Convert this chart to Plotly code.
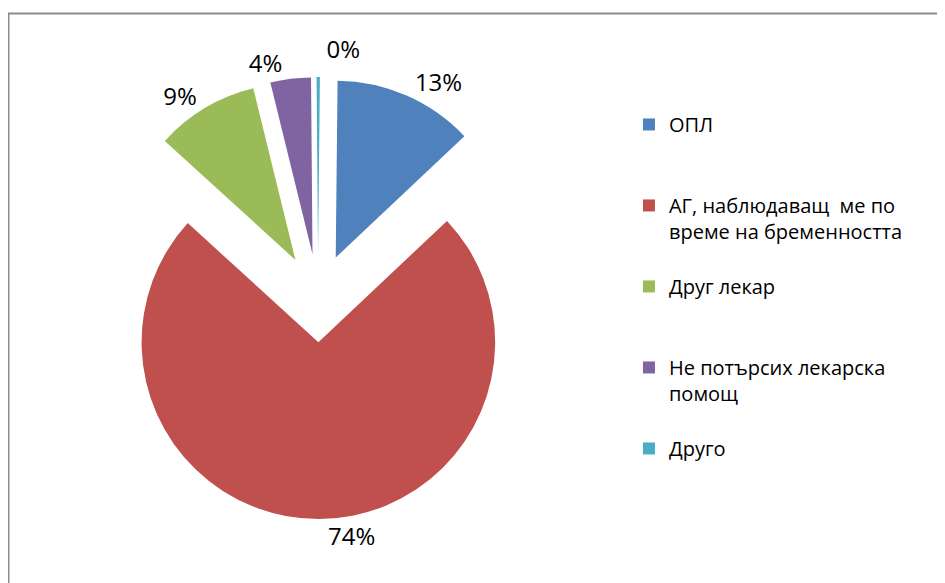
import plotly.graph_objects as go

categories = ["ОПЛ", "АГ, наблюдаващ  ме по<br>време на бременността", "Друг лекар",
              "Не потърсих лекарска<br>помощ", "Друго"]
values = [12.8, 73.8, 9.4, 3.7, 0.3]
colors = ["#4F81BD", "#C0504D", "#9BBB59", "#8064A2", "#4BACC6"]
explode = [0.25, 0.25, 0.25, 0.25, 0.25]

# pad legend entries to equal 3-line slots
legend_labels = []
for c in categories:
    n = c.count("<br>") + 1
    legend_labels.append(c + "<br> " * (3 - n))

FONT = "Open Sans"

fig = go.Figure(go.Pie(
    labels=legend_labels,
    values=values,
    sort=False,
    direction="clockwise",
    rotation=0.6,
    pull=explode,
    marker=dict(colors=colors, line=dict(width=0)),
    textposition="outside",
    texttemplate="<span style='color:#000000'>%{percent:.0%}</span>",
    # base text colour white so label leader lines vanish on the white page
    textfont=dict(family=FONT, size=24, color="#FFFFFF"),
    outsidetextfont=dict(family=FONT, size=24, color="#FFFFFF"),
    domain=dict(x=[0.0942, 0.5619], y=[0.1235, 0.8816]),
    hoverinfo="label+percent",
    automargin=False,
))

fig.update_layout(
    width=945, height=583,
    autosize=False,
    margin=dict(l=0, r=0, t=0, b=0, pad=0, autoexpand=False),
    paper_bgcolor="#FFFFFF",
    plot_bgcolor="#FFFFFF",
    font=dict(family=FONT, color="#000000"),
    legend=dict(
        x=0.6571, y=0.8337, xanchor="left", yanchor="top",
        font=dict(family=FONT, size=20, color="#000000"),
        valign="top",
        bgcolor="rgba(0,0,0,0)",
    ),
    shapes=[dict(type="rect", xref="paper", yref="paper",
                 x0=0.5/945, x1=1.05, y0=-0.05, y1=1 - 5.5/583,
                 line=dict(color="#8C8C8C", width=2), fillcolor="rgba(0,0,0,0)",
                 layer="below")],
)

fig.write_html("out.html")
